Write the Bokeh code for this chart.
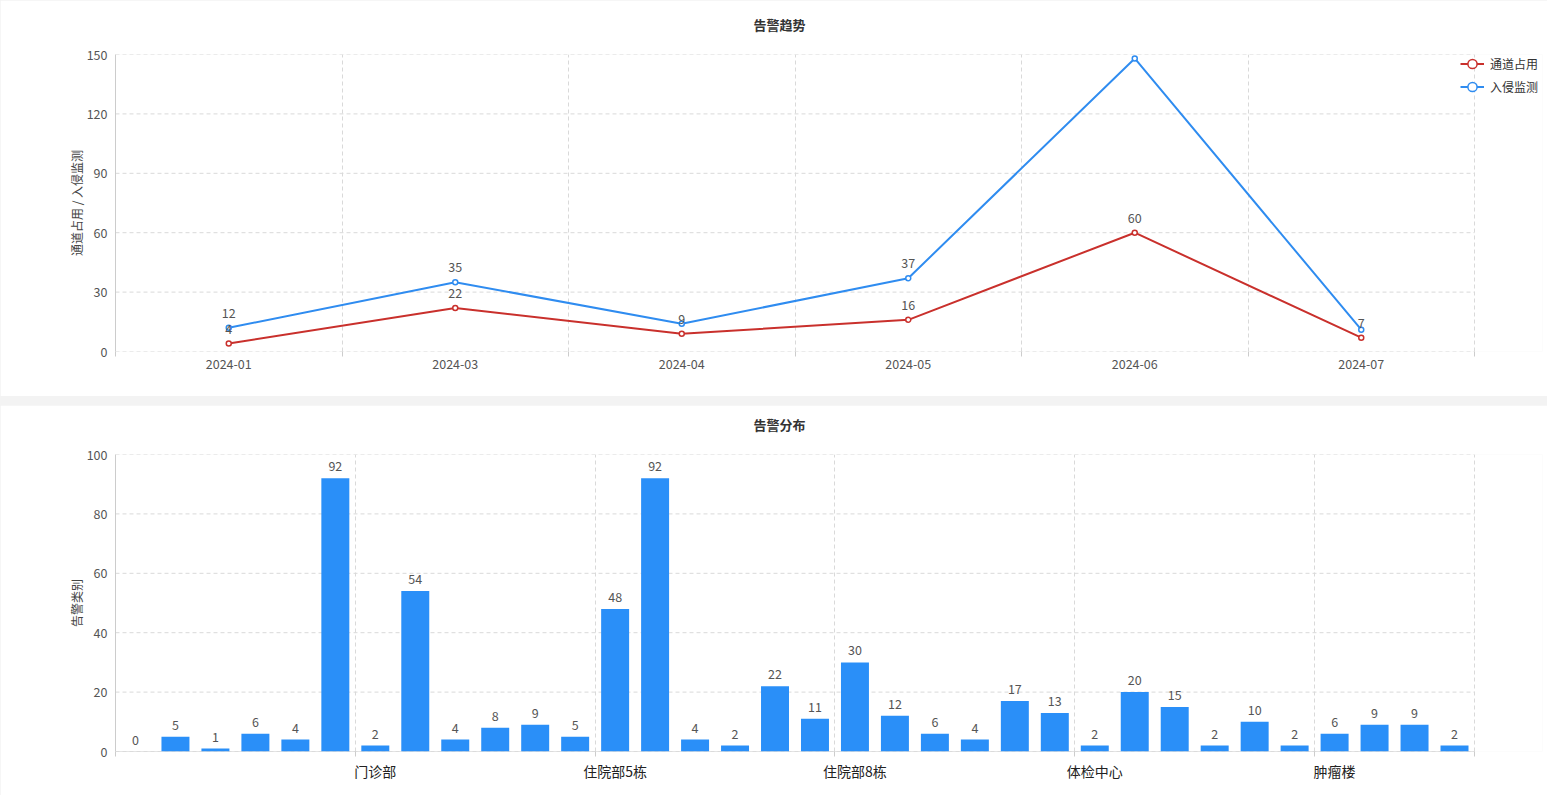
from bokeh.plotting import figure
from bokeh.models import Range1d, FixedTicker, Legend, LegendItem, ColumnDataSource
from bokeh.layouts import column
from bokeh.embed import file_html
from bokeh.resources import INLINE
from bokeh.core.properties import value

# ---------------- data ----------------
months = ["2024-01", "2024-03", "2024-04", "2024-05", "2024-06", "2024-07"]
occupy = [4, 22, 9, 16, 60, 7]            # 通道占用
intrude = [12, 35, 14, 37, 148, 11]       # 入侵监测
intrude_label_shown = [True, True, False, True, True, False]

bar_values = [0, 5, 1, 6, 4, 92,
              2, 54, 4, 8, 9, 5,
              48, 92, 4, 2, 22, 11,
              30, 12, 6, 4, 17, 13,
              2, 20, 15, 2, 10, 2,
              6, 9, 9, 2]
group_names = ["门诊部", "住院部5栋", "住院部8栋", "体检中心", "肿瘤楼"]
group_label_index = [6, 12, 18, 24, 30]
split_index = [0, 6, 12, 18, 24, 30, 34]

line_ticks = [0, 30, 60, 90, 120, 150]
bar_ticks = [0, 20, 40, 60, 80, 100]

# ---------------- style ----------------
FONT = "Noto Sans CJK SC"
RED = "#c9302c"
BLUE = "#2f8cf0"
BAR = "#2a8ff8"
GRID = "#d9d9d9"
AXIS = "#cccccc"
TXT = "#555555"
NUM_SIZE = "12.5px"

W = 1547
LEFT = 115
RIGHT_PAD = 5
CAT_W = 1359          # width of the category area in px
FRAME_W = W - LEFT - RIGHT_PAD


def style_common(p, title, ticks, n_cat):
    p.outline_line_color = None
    p.background_fill_color = "white"
    p.border_fill_color = "white"
    p.title.text = title + "\n "
    p.title.text_font = FONT
    p.title.text_font_size = "13px"
    p.title.text_color = "#333333"
    p.title.text_font_style = "bold"
    p.title.align = "left"
    p.title.offset = 638
    p.title.standoff = 4
    for ax in p.axis:
        ax.major_label_text_font = FONT
        ax.major_label_text_font_size = NUM_SIZE
        ax.major_label_text_color = TXT
        ax.axis_label_text_font = FONT
        ax.axis_label_text_font_size = "12px"
        ax.axis_label_text_font_style = "normal"
        ax.axis_label_text_color = "#444444"
        ax.major_tick_in = 0
        ax.major_tick_out = 0
        ax.minor_tick_in = 0
        ax.minor_tick_out = 0
        ax.axis_line_color = AXIS
    p.xaxis.axis_line_color = None
    p.xaxis.minor_tick_out = 5
    p.xaxis.minor_tick_line_color = AXIS
    p.yaxis.major_label_standoff = 8
    p.yaxis.axis_label_standoff = -1
    p.yaxis.ticker = FixedTicker(ticks=ticks)
    p.ygrid.visible = False
    for g in p.xgrid:
        g.grid_line_color = GRID
        g.grid_line_dash = "4 3"
        g.grid_line_width = 1
    # horizontal dashed grid limited to the category area
    p.segment(x0=[0] * len(ticks), x1=[n_cat] * len(ticks), y0=ticks, y1=ticks,
              line_color=GRID, line_dash="4 3", line_width=1)


# ---------------- top: line chart ----------------
n = len(months)
xs = [i + 0.5 for i in range(n)]
p1 = figure(width=W, height=396, output_backend="svg", toolbar_location=None,
            x_range=Range1d(0, n * FRAME_W / CAT_W), y_range=Range1d(0, 150),
            min_border_left=LEFT, min_border_right=RIGHT_PAD,
            min_border_top=54, min_border_bottom=45)
style_common(p1, "告警趋势", line_ticks, n)

p1.xaxis.ticker = FixedTicker(ticks=xs, minor_ticks=list(range(n + 1)))
p1.xaxis.major_label_overrides = {x: m for x, m in zip(xs, months)}
p1.xaxis.major_label_standoff = 2
p1.xgrid.ticker = FixedTicker(ticks=list(range(n + 1)))
p1.yaxis.axis_label = "通道占用 / 入侵监测"

src = ColumnDataSource(dict(
    x=xs, occ=occupy, intr=intrude,
    occ_t=[str(v) for v in occupy],
    intr_t=[str(v) if s else "" for v, s in zip(intrude, intrude_label_shown)],
))

l_red = p1.line("x", "occ", source=src, line_color=RED, line_width=2)
s_red = p1.scatter("x", "occ", source=src, size=5, fill_color="white",
                   line_color=RED, line_width=1.5)
l_blue = p1.line("x", "intr", source=src, line_color=BLUE, line_width=2)
s_blue = p1.scatter("x", "intr", source=src, size=5, fill_color="white",
                    line_color=BLUE, line_width=1.5)

for col_y, col_t in (("intr", "intr_t"), ("occ", "occ_t")):
    p1.text("x", col_y, text=col_t, source=src, y_offset=-15,
            text_align="center", text_baseline="middle",
            text_font=value(FONT), text_font_size=NUM_SIZE, text_color=TXT)

legend = Legend(items=[LegendItem(label="通道占用", renderers=[l_red, s_red]),
                       LegendItem(label="入侵监测", renderers=[l_blue, s_blue])],
                location=(1345, 253), orientation="vertical",
                glyph_width=24, glyph_height=23, label_height=16,
                label_standoff=6, spacing=0, padding=0, margin=0,
                background_fill_alpha=0, border_line_color=None,
                label_text_font=FONT, label_text_font_size="12px",
                label_text_color="#333333")
p1.add_layout(legend)

# ---------------- bottom: bar chart ----------------
m = len(bar_values)
bx = [i + 0.5 for i in range(m)]
p2 = figure(width=W, height=390, output_backend="svg", toolbar_location=None,
            x_range=Range1d(0, m * FRAME_W / CAT_W), y_range=Range1d(0, 100),
            min_border_left=LEFT, min_border_right=RIGHT_PAD,
            min_border_top=49, min_border_bottom=44)
style_common(p2, "告警分布", bar_ticks, m)

gl = [i + 0.5 for i in group_label_index]
p2.xaxis.ticker = FixedTicker(ticks=gl, minor_ticks=split_index)
p2.xaxis.major_label_overrides = {x: g for x, g in zip(gl, group_names)}
p2.xaxis.major_label_text_font_size = "14px"
p2.xaxis.major_label_text_color = "#222222"
p2.xaxis.major_label_standoff = 4
p2.xgrid.ticker = FixedTicker(ticks=split_index)
p2.yaxis.axis_label = "告警类别"

# solid base line of the bar chart
p2.segment(x0=[0], x1=[m], y0=[0], y1=[0], line_color=AXIS, line_width=1)

bsrc = ColumnDataSource(dict(x=bx, top=bar_values, t=[str(v) for v in bar_values]))
p2.vbar(x="x", top="top", width=0.7, source=bsrc, fill_color=BAR, line_color=None)
p2.text("x", "top", text="t", source=bsrc, y_offset=-12,
        text_align="center", text_baseline="middle",
        text_font=value(FONT), text_font_size=NUM_SIZE, text_color=TXT)

layout = column(p1, p2, spacing=9, styles={"background-color": "#f3f3f3"})

open("out.html", "w").write(file_html(layout, INLINE))
